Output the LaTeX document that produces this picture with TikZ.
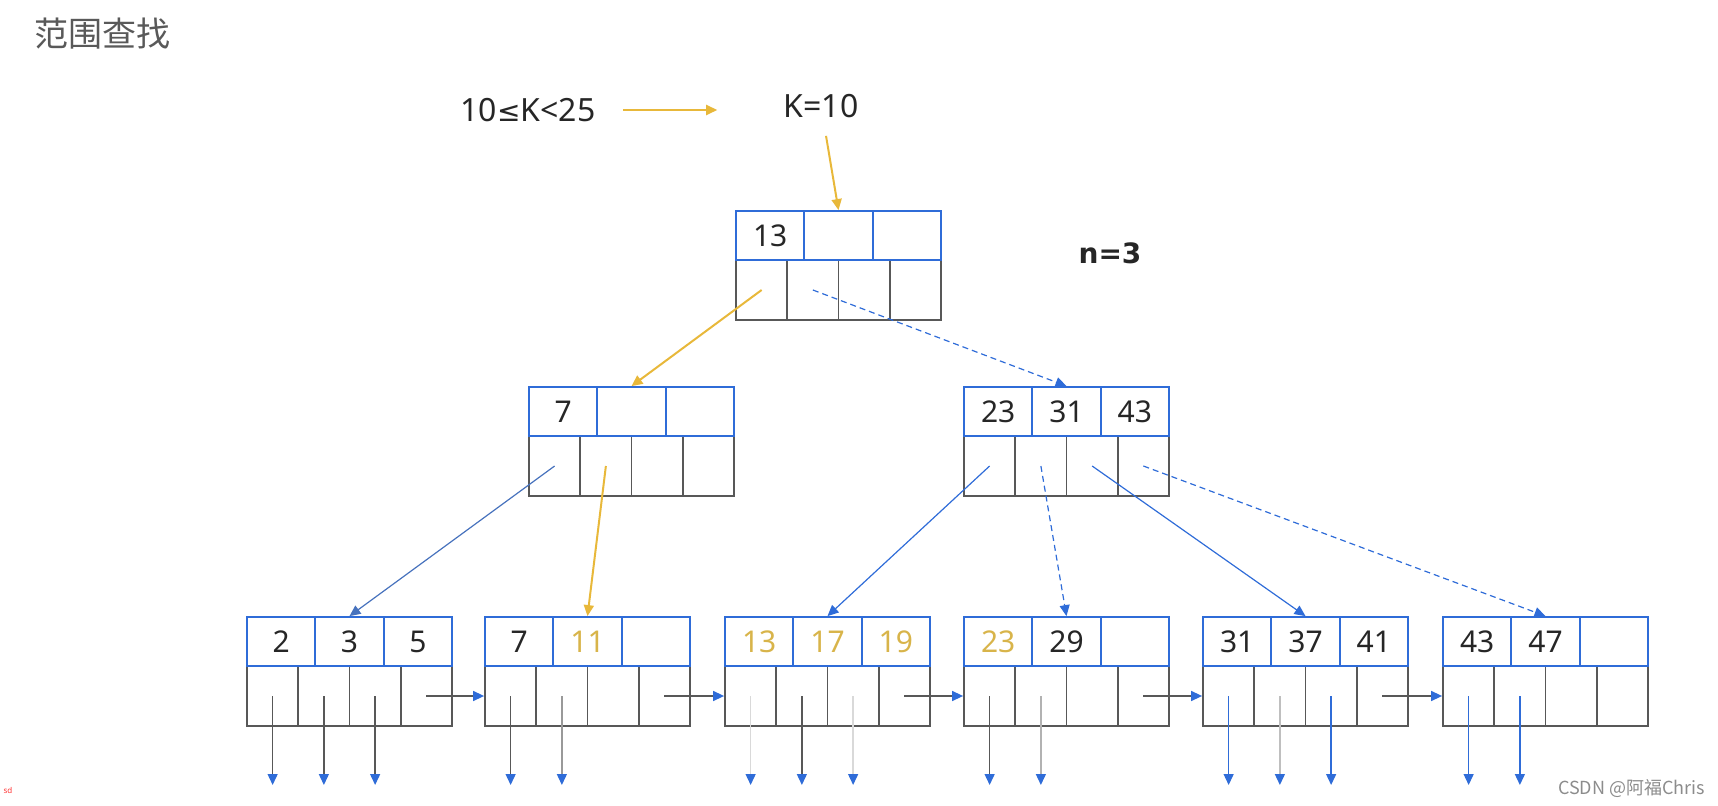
\documentclass[tikz,border=0pt]{standalone}
\usepackage{fontspec}
\setmainfont{Noto Sans}
\newfontfamily\cjk{Noto Sans CJK SC}
\newfontfamily\sym{DejaVu Sans}
\usetikzlibrary{arrows.meta}

\definecolor{bblue}{RGB}{47,108,216}
\definecolor{bgold}{RGB}{232,184,58}
\definecolor{keygold}{RGB}{216,180,74}
\definecolor{bgray}{RGB}{88,88,88}

\tikzset{
	keycell/.style={draw=bblue, line width=0.9pt, minimum width=34.17pt, minimum height=24.5pt, inner sep=0pt, text=black!85, font=\fontsize{15}{18}\selectfont},
	ptrcell/.style={draw=bgray, line width=0.9pt, minimum width=25.62pt, minimum height=30pt, inner sep=0pt},
	txt/.style={inner sep=0pt, text=black!85, font=\fontsize{16}{19}\selectfont},
	goldarrow/.style={draw=bgold, line width=1pt, -{Triangle[width=5pt,length=5.5pt]}},
	bluearrow/.style={draw=bblue, line width=0.6pt, -{Triangle[width=5pt,length=5.5pt]}},
	downarrow/.style={draw=bgray, line width=0.7pt, -{Triangle[color=bblue,width=5pt,length=5.5pt]}}
}

% one B+ tree node: name, left, top, keys
\newcommand{\bpnode}[4]{%
	\foreach \i in {1,...,4}
		\node[ptrcell] (#1-p\i) at ({#2+(\i-0.5)*51.25},{#3+79}) {};
	\foreach \k [count=\i] in {#4}
		\node[keycell] (#1-k\i) at ({#2+(\i-0.5)*68.33},{#3+24.5}) {\k};
}

\begin{document}
\begin{tikzpicture}[x=0.5pt, y=-0.5pt]
	\useasboundingbox (0,0) rectangle (1718,806);

	\node[text=black!65, font=\cjk\fontsize{17}{20}\selectfont] (title) at (102,34) {范围查找};
	\node[txt] (range) at (528,110) {10{\sym\fontsize{14}{17}\selectfont ≤}K<25};
	\node[txt] (kval)  at (821,106) {K=10};
	\node[txt, font=\sym\bfseries\fontsize{14}{17}\selectfont] (nval) at (1110,253) {n=3};

	\bpnode{r}{736}{211}{13,{},{}}
	\bpnode{m1}{529}{387}{7,{},{}}
	\bpnode{m2}{964}{387}{23,31,43}
	\bpnode{l1}{247}{617}{2,3,5}
	\bpnode{l2}{485}{617}{7,\textcolor{keygold}{11},{}}
	\bpnode{l3}{725}{617}{\textcolor{keygold}{13},\textcolor{keygold}{17},\textcolor{keygold}{19}}
	\bpnode{l4}{964}{617}{\textcolor{keygold}{23},29,{}}
	\bpnode{l5}{1203}{617}{31,37,41}
	\bpnode{l6}{1443}{617}{43,47,{}}

	\coordinate (bot) at (0,785);

	% search path
	\draw[goldarrow, shorten <=13.5pt, shorten >=33pt] (range.east) -- (kval.west |- range.east);
	\draw[goldarrow, shorten <=9pt] (kval) -- (r-k2.north);
	\draw[goldarrow] (r-p1.center) -- (m1-k2.north);
	\draw[goldarrow] (m1-p2.center) -- (l2-k2.north);

	% other children
	\draw[bluearrow, densely dashed] (r-p2.center) -- (m2-k2.north);
	\draw[bluearrow, draw=bblue!70!gray] (m1-p1.center) -- (l1-k2.north);
	\draw[bluearrow] (m2-p1.center) -- (l3-k2.north);
	\draw[bluearrow, densely dashed] (m2-p2.center) -- (l4-k2.north);
	\draw[bluearrow] (m2-p3.center) -- (l5-k2.north);
	\draw[bluearrow, densely dashed] (m2-p4.center) -- (l6-k2.north);

	% leaf chain
	\foreach \a/\b in {l1/l2, l2/l3, l3/l4, l4/l5, l5/l6}
		\draw[downarrow] (\a-p4.center) -- (\b-p1.west);

	% record pointers
	\foreach \c/\col in {l1-p1/bgray, l1-p2/bgray, l1-p3/bgray, l2-p1/bgray, l2-p2/black!40,
		l3-p1/black!15, l3-p2/bgray, l3-p3/black!15, l4-p1/bgray, l4-p2/black!30,
		l5-p1/bblue, l5-p2/black!25, l5-p3/bblue, l6-p1/bblue, l6-p2/bblue}
		\draw[downarrow, draw=\col] (\c.center) -- (\c |- bot);

	\node[text=black!45, font=\cjk\fontsize{9}{11}\selectfont, anchor=east] (mark) at (1712,789) {CSDN @阿福Chris};
	\node[text=red!80, font=\fontsize{4}{5}\selectfont] (sd) at (8,790) {sd};
\end{tikzpicture}
\end{document}
